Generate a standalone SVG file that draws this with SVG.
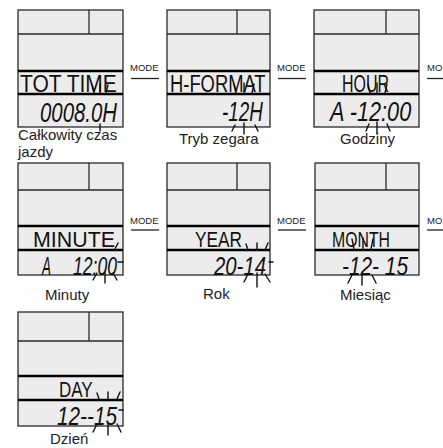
<svg xmlns="http://www.w3.org/2000/svg" width="443" height="448" viewBox="0 0 443 448">
<style>
.bg{fill:#ffffff}
.scr{fill:#ececec;stroke:#2a2a2a;stroke-width:1.3}
.div{stroke:#2a2a2a;stroke-width:1.3;fill:none}
.thk{stroke:#000;stroke-width:2.6;fill:none}
.lcd{font-family:"Liberation Sans",Arial,sans-serif;fill:#111;font-size:24px}
.lcd2{font-family:"Liberation Sans",Arial,sans-serif;fill:#111;font-size:22.5px}
.dig{font-family:"Liberation Sans",Arial,sans-serif;fill:#111;font-size:27px;font-style:italic}
.dig2{font-family:"Liberation Sans",Arial,sans-serif;fill:#111;font-size:25.5px;font-style:italic}
.tk{stroke:#111;stroke-width:1.4;fill:none;stroke-linecap:round}
.lbl{font-family:"Liberation Sans",Arial,sans-serif;fill:#222;font-size:15px}
.mode{font-family:"Liberation Sans",Arial,sans-serif;fill:#222;font-size:9.5px}
.ml{stroke:#222;stroke-width:1.3}
</style>
<rect class="bg" x="0" y="0" width="443" height="448"/>

<g id="screen-tot-time">
<rect class="scr" x="18" y="10" width="105" height="117"/>
<path class="div" d="M18 34H123M89 10V34"/>
<path class="thk" d="M18 71H123M18 94H123"/>
<text class="lcd" transform="translate(20,92) scale(0.875,1)">TOT TIME</text>
<text class="dig" transform="translate(40,121.5) scale(0.755,1)">0008.0H</text>
<path class="tk" d="M92 85L94 93M100 84V93M108 85L106 93M100 124V131"/>
<text class="lbl" x="18" y="139.5">Całkowity czas</text>
<text class="lbl" x="18" y="156.5">jazdy</text>
</g>

<g id="screen-h-format">
<rect class="scr" x="167" y="10" width="103" height="117"/>
<path class="div" d="M167 34H270M237 10V34"/>
<path class="thk" d="M167 71H270M167 94H270"/>
<text class="lcd" transform="translate(170,92) scale(0.766,1)">H-FORMAT</text>
<text class="dig" transform="translate(222,121) scale(0.70,1)">-12H</text>
<path class="tk" d="M234 84L236 93M244 83V93M254 84L252 93M235 125L232 131M244 123V134M255 125L258 131"/>
<text class="lbl" x="179" y="144">Tryb zegara</text>
</g>

<g id="screen-hour">
<rect class="scr" x="314" y="10" width="105" height="117"/>
<path class="div" d="M314 34H419M386 10V34"/>
<path class="thk" d="M314 71H419M314 94H419"/>
<text class="lcd" transform="translate(342,92) scale(0.665,1)">HOUR</text>
<text class="dig" transform="translate(330,121) scale(0.804,1)">A -12:00</text>
<path class="tk" d="M368 84L370 93M377 83V94M387 84L385 93M369 124L366 131M377 122V134M387 124L390 131"/>
<text class="lbl" x="340" y="144">Godziny</text>
</g>

<g id="screen-minute">
<rect class="scr" x="18" y="163" width="105" height="112"/>
<path class="div" d="M18 190H123M89 163V190"/>
<path class="thk" d="M18 226H123M18 250H123"/>
<text class="lcd2" transform="translate(33,247) scale(0.951,1)">MINUTE</text>
<text class="dig2" transform="translate(42,274.8) scale(0.53,1)">A</text>
<text class="dig2" transform="translate(73,274.8) scale(0.69,1)">12:00</text>
<path class="tk" d="M118 243L115 249M118 262H123M97 273L93 280M105 272V283M113 273L117 280"/>
<text class="lbl" x="45" y="300">Minuty</text>
</g>

<g id="screen-year">
<rect class="scr" x="167" y="163" width="103" height="112"/>
<path class="div" d="M167 190H270M237 163V190"/>
<path class="thk" d="M167 226H270M167 250H270"/>
<text class="lcd2" transform="translate(195,247) scale(0.767,1)">YEAR</text>
<text class="dig2" transform="translate(214,274.8) scale(0.798,1)">20-14</text>
<path class="tk" d="M246 244L248 250M257 243V250M268 243L265 250M269 262H273M248 274L244 282M257 273V287M265 274L270 282"/>
<text class="lbl" x="203" y="299">Rok</text>
</g>

<g id="screen-month">
<rect class="scr" x="315" y="163" width="104" height="112"/>
<path class="div" d="M315 190H419M386 163V190"/>
<path class="thk" d="M315 226H419M315 250H419"/>
<text class="lcd2" transform="translate(332,247) scale(0.703,1)">MONTH</text>
<text class="dig2" transform="translate(342,274.8) scale(0.817,1)">-12- 15</text>
<path class="tk" d="M352 239L354 249M363 238V250M373 239L371 249M352 275L348 283M362 273V285M372 275L376 283"/>
<text class="lbl" x="340" y="300">Miesiąc</text>
</g>

<g id="screen-day">
<rect class="scr" x="18" y="312" width="105" height="114"/>
<path class="div" d="M18 341H123M89 312V341"/>
<path class="thk" d="M18 376H123M18 400H123"/>
<text class="lcd2" transform="translate(59,396.5) scale(0.756,1)">DAY</text>
<text class="dig2" transform="translate(57,424.5) scale(0.814,1)">12--15</text>
<path class="tk" d="M97 393L99 399M108 392V399M120 392L117 399M119 410H123M97 424L93 432M108 423V435M117 424L121 432"/>
<text class="lbl" x="50" y="444">Dzień</text>
</g>

<g id="connectors">
<text class="mode" x="130" y="71">MODE</text>
<line class="ml" x1="131" y1="78.5" x2="159" y2="78.5"/>
<text class="mode" x="277" y="71">MODE</text>
<line class="ml" x1="278" y1="78.5" x2="306" y2="78.5"/>
<text class="mode" x="427" y="71">MO</text>
<line class="ml" x1="427" y1="78.5" x2="443" y2="78.5"/>
<text class="mode" x="130" y="224">MODE</text>
<line class="ml" x1="131" y1="230" x2="159" y2="230"/>
<text class="mode" x="277" y="224">MODE</text>
<line class="ml" x1="278" y1="230" x2="306" y2="230"/>
<text class="mode" x="427" y="224">MO</text>
<line class="ml" x1="427" y1="230" x2="443" y2="230"/>
</g>
</svg>
